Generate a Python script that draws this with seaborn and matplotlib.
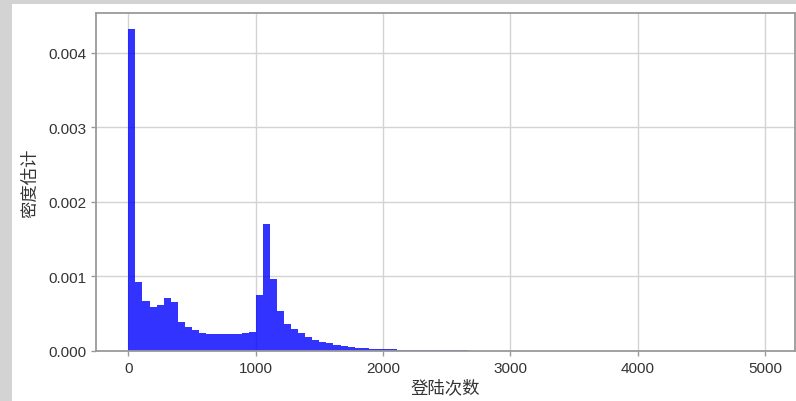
import numpy as np
import pandas as pd
import matplotlib
matplotlib.use('Agg')
import matplotlib.pyplot as plt
import seaborn as sns

# 90 equal bins over 0-5000 logins
bin_lo = 0
bin_hi = 5000
n_bins = 90

# density of each bin
density = [
    0.00432, 0.00093, 0.000667, 0.000587, 0.000613, 0.000711, 0.000653, 0.000385, 0.000327, 0.000286,
    0.000235, 0.000233, 0.000232, 0.000232, 0.000230, 0.000228, 0.000240, 0.000258, 0.000756, 0.00171,
    0.000966, 0.000541, 0.000362, 0.000295, 0.000242, 0.000184, 0.000148, 0.000125, 0.000107, 0.00008,
    0.000063, 0.00005, 0.00004, 0.000035, 0.00003, 0.000027, 0.000024, 0.000021, 0.000019, 0.000017,
    0.000015, 0.000013, 0.000012, 0.000011, 0.00001, 0.000009, 0.000008, 0.000007, 0.000006, 0.000006,
    0.000005, 0.000005, 0.000004, 0.000004, 0.000004, 0.000003, 0.000003, 0.000002, 0.000002, 0.000002,
    0.000002, 0.000003, 0.000002, 0.000001, 0.000001, 0.000002, 0.000002, 0.000001, 0.000001, 0.000002,
    0.000003, 0.000003, 0.000003, 0.000002, 0.000002, 0.000001, 0.000001, 0.000001, 0.000001, 0.000001,
    0.0, 0.000002, 0.000002, 0.0, 0.0, 0.0, 0.0, 0.0, 0.0, 0.000001,
]

y_ticks = [0.000, 0.001, 0.002, 0.003, 0.004]
x_ticks = [0, 1000, 2000, 3000, 4000, 5000]

edges = np.linspace(bin_lo, bin_hi, n_bins + 1)
centers = (edges[:-1] + edges[1:]) / 2
df = pd.DataFrame({'logins': centers, 'density': density})

sns.set_style('whitegrid', {'axes.edgecolor': '#9a9a9a', 'grid.color': '#d3d3d3',
                            'xtick.bottom': True, 'ytick.left': True})
plt.rcParams['font.family'] = ['Liberation Sans', 'Noto Sans CJK SC']
plt.rcParams['axes.unicode_minus'] = False

fig = plt.figure(figsize=(7.96, 4.02), dpi=100, facecolor='#d3d3d3')
# white page inside the grey frame
fig.patches.append(plt.Rectangle((12 / 796, 0), 1, 1 - 5 / 402, transform=fig.transFigure,
                                 facecolor='white', edgecolor='none', zorder=-5))
ax = fig.add_axes([96 / 796, 1 - 352 / 402, 699 / 796, 338 / 402])
ax.set_zorder(2)

sns.histplot(data=df, x='logins', weights='density', bins=n_bins, binrange=(bin_lo, bin_hi),
             color='blue', alpha=0.8, linewidth=0, ax=ax)

ax.set_xlim(-254, 5236)
ax.set_ylim(0, 0.004536)
ax.set_xticks(x_ticks)
ax.set_yticks(y_ticks)
ax.set_yticklabels(['%.3f' % v for v in y_ticks])
ax.tick_params(labelsize=11, colors='#333333', length=3.5, width=1)
ax.tick_params(color='#9a9a9a')
ax.grid(True, linewidth=1)
for s in ax.spines.values():
    s.set_linewidth(1.3)

ax.set_xlabel('登陆次数', fontsize=12.5, color='#333333')
ax.set_ylabel('密度估计', fontsize=12.5, color='#333333')
ax.xaxis.set_label_coords(0.5, -0.08)
ax.yaxis.set_label_coords(-0.083, 0.5)

fig.savefig('out.png', dpi=100, facecolor=fig.get_facecolor())
